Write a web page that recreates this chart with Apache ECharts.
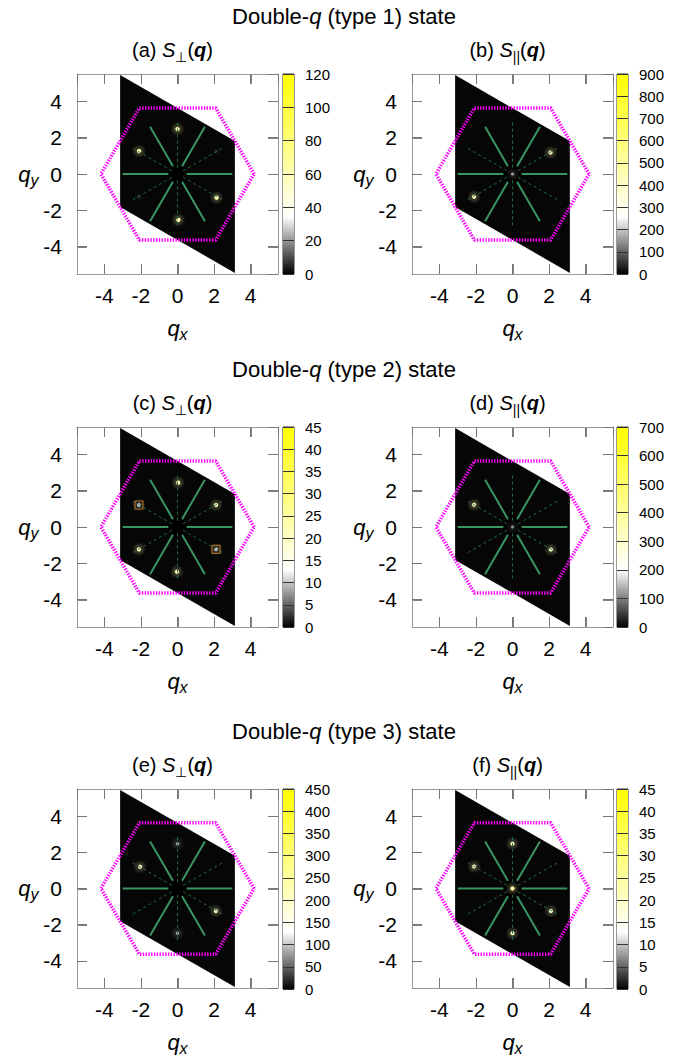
<!DOCTYPE html>
<html><head><meta charset="utf-8">
<script src="https://cdn.jsdelivr.net/npm/echarts@6/dist/echarts.min.js"></script>
<style>html,body{margin:0;padding:0;background:#fff}#c{width:689px;height:1057px}</style>
</head><body><div id="c"></div>
<script>
// ---------------- data ----------------
const ROW_STATES = ['1', '2', '3'];
const PANEL_LETTERS = ['a', 'b', 'c', 'd', 'e', 'f'];
const PANEL_KIND = ['perp', 'par', 'perp', 'par', 'perp', 'par'];
const CB_MAX = [120, 900, 45, 700, 450, 45];
const CB_STEP = [20, 100, 5, 100, 50, 5];
const AXIS_TICKS = [-4, -2, 0, 2, 4];
const AXIS_RANGE = [-5.5, 5.5];
// Bragg spots: [qx, qy, intensity]
const SPOTS_A = [[0.00, 2.47, 62], [-2.10, 1.26, 60], [2.14, -1.30, 60], [0.05, -2.52, 62], [2.12, 1.24, 6], [-2.12, -1.26, 6]];
const SPOTS_B = [[2.08, 1.18, 420], [-2.10, -1.25, 420], [0.00, 0.00, 160]];
const SPOTS_C = [[0.04, 2.44, 22], [2.11, 1.21, 22], [-2.11, 1.21, 12], [-2.11, -1.23, 22], [2.11, -1.23, 12], [-0.03, -2.46, 22]];
const SPOTS_D = [[-2.10, 1.22, 330], [2.10, -1.24, 330], [0.00, 0.00, 110]];
const SPOTS_E = [[-2.05, 1.20, 200], [2.10, -1.25, 200], [0.00, 2.47, 90], [0.00, -2.47, 90]];
const SPOTS_F = [[0.00, 2.47, 20], [0.00, -2.47, 20], [-2.10, 1.22, 20], [2.10, -1.24, 20], [0.00, 0.00, 24]];
const SPOTS = [SPOTS_A, SPOTS_B, SPOTS_C, SPOTS_D, SPOTS_E, SPOTS_F];
const BOXES_C = [[-2.11, 1.21], [2.11, -1.23]];
// geometry
const DOMAIN = [[-3.14, 5.44], [3.14, 1.81], [3.14, -5.44], [-3.14, -1.81]];
const BZ_HEXAGON = [[4.19, 0], [2.09, 3.63], [-2.09, 3.63], [-4.19, 0], [-2.09, -3.63], [2.09, -3.63]];
const CENTER_HOLE = [[0, 0, 0.5]];
const SOLID_SEGMENTS = [[0.5, 0, 3.0, 0], [0.25, 0.433, 1.5, 2.598], [-0.25, 0.433, -1.5, 2.598],
  [-0.5, 0, -3.0, 0], [-0.25, -0.433, -1.5, -2.598], [0.25, -0.433, 1.5, -2.598]];
const DASHED_SEGMENTS = [[0.303, 0.175, 2.494, 1.44], [0, 0.35, 0, 2.88], [-0.303, 0.175, -2.494, 1.44],
  [-0.303, -0.175, -2.494, -1.44], [0, -0.35, 0, -2.88], [0.303, -0.175, 2.494, -1.44]];
const PALETTE = ['#000000', '#808080', '#ffffff', '#ffffcc', '#ffff99', '#ffff66', '#ffff33', '#ffff00'];

// ---------------- layout ----------------
const FONT = '"Liberation Sans", Arial, Helvetica, sans-serif';
const COL_LEFT = [77, 412], PLOT_W = 201, PLOT_H = 200;
const ROW_TOP = [74, 427, 789];
const CB_LEFT = [283, 617], CB_W = 11;
const TICK_LEN = 10;

const chart = echarts.init(document.getElementById('c'), null, {renderer: 'svg', width: 689, height: 1057});
const grid = [], xAxis = [], yAxis = [], series = [], visualMap = [], graphic = [];

const nameRich = () => ({
  i: {fontStyle: 'italic', fontSize: 22, fontFamily: FONT, color: '#000'},
  s: {fontStyle: 'italic', fontSize: 16, fontFamily: FONT, color: '#000', padding: [12, 0, 0, 0]}
});
const edgeLine = () => ({show: true, onZero: false, lineStyle: {color: '#999', width: 1}});
const edgeTick = () => ({show: true, inside: true, length: TICK_LEN, lineStyle: {color: '#777', width: 1}});
const labelStyle = (m) => ({fontSize: 21, color: '#000', fontFamily: FONT, margin: m, showMinLabel: false, showMaxLabel: false});

for (let i = 0; i < 6; i++) {
  const r = Math.floor(i / 2), c = i % 2;
  const g = grid.length;
  grid.push({left: COL_LEFT[c], top: ROW_TOP[r], width: PLOT_W, height: PLOT_H, show: false});
  grid.push({left: CB_LEFT[c], top: ROW_TOP[r], width: CB_W, height: PLOT_H, show: true, borderColor: '#333', borderWidth: 1});
  const xb = xAxis.length;
  xAxis.push({type: 'value', gridIndex: g, min: AXIS_RANGE[0], max: AXIS_RANGE[1], splitNumber: 5, position: 'bottom', z: 9,
    axisLine: edgeLine(), splitLine: {show: false}, axisTick: edgeTick(), axisLabel: labelStyle(11),
    name: '{i|q}{s|x}', nameLocation: 'middle', nameGap: 40, nameTextStyle: {rich: nameRich()}});
  xAxis.push({type: 'value', gridIndex: g, min: AXIS_RANGE[0], max: AXIS_RANGE[1], splitNumber: 5, position: 'top', z: 9,
    axisLine: edgeLine(), splitLine: {show: false}, axisTick: edgeTick(), axisLabel: {show: false}});
  const xc = xAxis.length;
  xAxis.push({type: 'value', gridIndex: g + 1, min: 0, max: 1, show: false});
  const yl = yAxis.length;
  yAxis.push({type: 'value', gridIndex: g, min: AXIS_RANGE[0], max: AXIS_RANGE[1], splitNumber: 5, position: 'left', z: 9,
    axisLine: edgeLine(), splitLine: {show: false}, axisTick: edgeTick(), axisLabel: labelStyle(15),
    name: '{i|q}{s|y}', nameLocation: 'middle', nameRotate: 0, nameGap: 36, nameTextStyle: {rich: nameRich()}});
  yAxis.push({type: 'value', gridIndex: g, min: AXIS_RANGE[0], max: AXIS_RANGE[1], splitNumber: 5, position: 'right', z: 9,
    axisLine: edgeLine(), splitLine: {show: false}, axisTick: edgeTick(), axisLabel: {show: false}});
  const yc = yAxis.length;
  yAxis.push({type: 'value', gridIndex: g + 1, min: 0, max: CB_MAX[i], interval: CB_STEP[i], position: 'right', z: 10,
    axisLine: {show: false, onZero: false}, axisTick: {show: false},
    splitLine: {show: true, lineStyle: {color: '#333', width: 1}},
    axisLabel: {fontSize: 15, color: '#000', fontFamily: FONT, margin: 11}});

  const base = {xAxisIndex: xb, yAxisIndex: yl, silent: true, animation: false};
  // reciprocal-space domain
  series.push(Object.assign({type: 'custom', data: [[0, 0]], z: 1,
    renderItem: (p, api) => ({type: 'polygon', shape: {points: DOMAIN.map(pt => api.coord(pt))}, style: {fill: '#060606'}})}, base));
  // inward tick marks on all four sides (thin filled rects)
  series.push(Object.assign({type: 'custom', data: AXIS_TICKS.map(v => [v, 0]), encode: {x: 0, y: 1}, z: 9, clip: false,
    renderItem: (p, api) => {
      const v = api.value(0);
      const b = api.coord([v, AXIS_RANGE[0]]), t = api.coord([v, AXIS_RANGE[1]]);
      const l = api.coord([AXIS_RANGE[0], v]), rr = api.coord([AXIS_RANGE[1], v]);
      const st = () => ({fill: '#808080'});
      const xv = Math.round(b[0]), yv = Math.round(l[1]);
      return {type: 'group', children: [
        {type: 'rect', shape: {x: xv, y: Math.round(b[1]) - TICK_LEN, width: 1, height: TICK_LEN}, style: st()},
        {type: 'rect', shape: {x: xv, y: Math.round(t[1]), width: 1, height: TICK_LEN}, style: st()},
        {type: 'rect', shape: {x: Math.round(l[0]), y: yv, width: TICK_LEN, height: 1}, style: st()},
        {type: 'rect', shape: {x: Math.round(rr[0]) - TICK_LEN, y: yv, width: TICK_LEN, height: 1}, style: st()}
      ]};
    }}, base));
  // dark centre
  series.push(Object.assign({type: 'custom', data: CENTER_HOLE, z: 2,
    renderItem: (p, api) => {
      const ctr = api.coord([api.value(0), api.value(1)]);
      const s = api.size([api.value(2), api.value(2)]);
      return {type: 'circle', shape: {cx: ctr[0], cy: ctr[1], r: s[0]}, style: {fill: '#000'}};
    }}, base));
  // spots
  const spotIdx = series.length;
  series.push(Object.assign({type: 'custom', data: SPOTS[i], encode: {x: 0, y: 1}, z: 3,
    renderItem: (p, api) => {
      const ctr = api.coord([api.value(0), api.value(1)]);
      const col = api.visual('color');
      const f = api.value(2) / CB_MAX[i];
      return {type: 'group', children: [
        {type: 'circle', shape: {cx: ctr[0], cy: ctr[1], r: 6}, style: {fill: col, opacity: 0.06}},
        {type: 'circle', shape: {cx: ctr[0], cy: ctr[1], r: 1.3 + 1.6 * f},
          style: {fill: col, shadowBlur: 5, shadowColor: col}}
      ]};
    }}, base));
  visualMap.push({type: 'continuous', show: false, min: 0, max: CB_MAX[i], dimension: 2, seriesIndex: spotIdx,
    inRange: {color: PALETTE}});
  // dashed guide lines
  series.push(Object.assign({type: 'custom', data: DASHED_SEGMENTS, encode: {x: [0, 2], y: [1, 3]}, z: 4,
    renderItem: (p, api) => {
      const a = api.coord([api.value(0), api.value(1)]), b = api.coord([api.value(2), api.value(3)]);
      return {type: 'line', shape: {x1: a[0], y1: a[1], x2: b[0], y2: b[1]},
        style: {stroke: '#236b42', lineWidth: 1, lineDash: [3, 3]}};
    }}, base));
  // solid guide lines
  series.push(Object.assign({type: 'custom', data: SOLID_SEGMENTS, encode: {x: [0, 2], y: [1, 3]}, z: 4,
    renderItem: (p, api) => {
      const a = api.coord([api.value(0), api.value(1)]), b = api.coord([api.value(2), api.value(3)]);
      return {type: 'line', shape: {x1: a[0], y1: a[1], x2: b[0], y2: b[1]},
        style: {stroke: '#3a9563', lineWidth: 2}};
    }}, base));
  // first Brillouin zone
  series.push(Object.assign({type: 'line', data: BZ_HEXAGON.concat([BZ_HEXAGON[0]]), symbol: 'none', z: 5,
    lineStyle: {color: '#ff00ff', width: 3.5, type: [1.4, 1.4]}}, base));
  if (i === 2) {
    series.push(Object.assign({type: 'scatter', data: BOXES_C, symbol: 'rect', symbolSize: 8, z: 6,
      itemStyle: {color: 'rgba(0,0,0,0)', borderColor: '#c47a20', borderWidth: 1.2}}, base));
  }
  // colour bar
  const stops = PALETTE.map((col, k) => ({offset: k / (PALETTE.length - 1), color: col}));
  series.push({type: 'custom', xAxisIndex: xc, yAxisIndex: yc, silent: true, animation: false, z: 1,
    data: [[0, 0]],
    renderItem: (p, api) => {
      const a = api.coord([0, CB_MAX[i]]), b = api.coord([1, 0]);
      return {type: 'rect', shape: {x: a[0], y: a[1], width: b[0] - a[0], height: b[1] - a[1]},
        style: {fill: {type: 'linear', x: 0, y: 1, x2: 0, y2: 0, colorStops: stops}}};
    }});

  // panel subtitle
  const sub = PANEL_KIND[i] === 'perp' ? '⊥' : '||';
  graphic.push({type: 'text', x: COL_LEFT[c] + PLOT_W / 2 - 5, y: ROW_TOP[r] - 24,
    style: {text: '{n|(' + PANEL_LETTERS[i] + ') }{i|S}{s|' + sub + '}{n|(}{b|q}{n|)}',
      align: 'center', verticalAlign: 'middle',
      rich: {
        n: {fontSize: 20, fontFamily: FONT, fill: '#000'},
        i: {fontSize: 20, fontFamily: FONT, fontStyle: 'italic', fill: '#000'},
        b: {fontSize: 20, fontFamily: FONT, fontStyle: 'italic', fontWeight: 'bold', fill: '#000'},
        s: {fontSize: 14, fontFamily: FONT, fill: '#000', padding: [14, 0, 0, 0]}
      }}});
}
ROW_STATES.forEach((t, r) => {
  graphic.push({type: 'text', x: 344, y: ROW_TOP[r] - 58,
    style: {text: '{n|Double-}{i|q}{n| (type ' + t + ') state}', align: 'center', verticalAlign: 'middle',
      rich: {
        n: {fontSize: 22, fontFamily: FONT, fill: '#000'},
        i: {fontSize: 22, fontFamily: FONT, fontStyle: 'italic', fill: '#000'}
      }}});
});

chart.setOption({animation: false, backgroundColor: '#fff', grid, xAxis, yAxis, series, visualMap, graphic});
</script>
</body></html>
